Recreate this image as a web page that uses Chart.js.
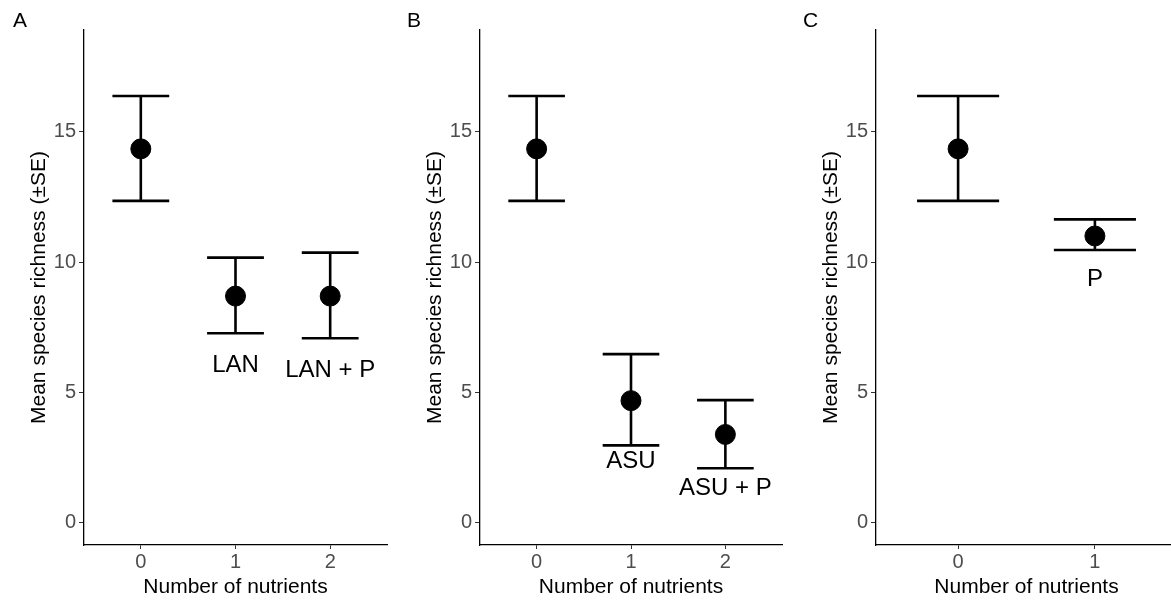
<!DOCTYPE html>
<html>
<head>
<meta charset="utf-8">
<script src="https://cdn.jsdelivr.net/npm/chart.js@4/dist/chart.umd.min.js"></script>
<style>
  html, body { margin: 0; padding: 0; background: #fff; overflow: hidden; }
  #wrap { position: relative; width: 1171px; height: 602px; overflow: hidden; }
  canvas { position: absolute; top: 0; }
</style>
</head>
<body>
<div id="wrap">
  <canvas id="panel-a" width="396" height="602" style="left:0"></canvas>
  <canvas id="panel-b" width="396" height="602" style="left:396px"></canvas>
  <canvas id="panel-c" width="396" height="602" style="left:792px"></canvas>
</div>
<script>
// Mean species richness (±SE) by number of nutrients added

const yTicks = [0, 5, 10, 15];

// Panel A - LAN
const aNutrients = [0, 1, 2];
const aMeans = [14.35, 8.69, 8.69];
const aLower = [12.35, 7.26, 7.07];
const aUpper = [16.38, 10.17, 10.36];
const aNotes = ['', 'LAN', 'LAN + P'];
const aNoteY = [null, 5.77, 5.58];

// Panel B - ASU
const bNutrients = [0, 1, 2];
const bMeans = [14.35, 4.67, 3.37];
const bLower = [12.35, 2.95, 2.07];
const bUpper = [16.38, 6.46, 4.69];
const bNotes = ['', 'ASU', 'ASU + P'];
const bNoteY = [null, 2.08, 1.04];

// Panel C - P
const cNutrients = [0, 1];
const cMeans = [14.35, 11.0];
const cLower = [12.35, 10.46];
const cUpper = [16.38, 11.64];
const cNotes = ['', 'P'];
const cNoteY = [null, 9.08];

const FONT = "'Liberation Sans', Arial, sans-serif";

// draws whiskers, caps, text labels and the panel letter
const errorBarPlugin = {
    id: 'errorBars',
    beforeDatasetsDraw(chart, args, opts) {
        const { ctx } = chart;
        const x = chart.scales.x;
        const y = chart.scales.y;
        ctx.save();
        ctx.strokeStyle = '#000';
        ctx.lineWidth = 2.6;
        opts.nutrients.forEach((n, i) => {
            const px = x.getPixelForValue(n);
            const l = x.getPixelForValue(n - 0.3);
            const r = x.getPixelForValue(n + 0.3);
            const top = y.getPixelForValue(opts.upper[i]);
            const bot = y.getPixelForValue(opts.lower[i]);
            ctx.beginPath();
            ctx.moveTo(px, top); ctx.lineTo(px, bot);
            ctx.moveTo(l, top); ctx.lineTo(r, top);
            ctx.moveTo(l, bot); ctx.lineTo(r, bot);
            ctx.stroke();
        });
        ctx.restore();
    },
    afterDraw(chart, args, opts) {
        const { ctx } = chart;
        const x = chart.scales.x;
        const y = chart.scales.y;
        ctx.save();
        ctx.fillStyle = '#000';
        ctx.textAlign = 'center';
        ctx.textBaseline = 'alphabetic';
        ctx.font = '24px ' + FONT;
        opts.notes.forEach((t, i) => {
            if (!t) return;
            ctx.fillText(t, x.getPixelForValue(opts.nutrients[i]), y.getPixelForValue(opts.noteY[i]));
        });
        ctx.textAlign = 'left';
        ctx.font = '21px ' + FONT;
        ctx.fillText(opts.letter, opts.letterX, 27);
        ctx.restore();
    }
};

function makePanel(id, letter, letterX, nutrients, means, lower, upper, notes, noteY, padRight) {
    const ctx = document.getElementById(id);
    return new Chart(ctx, {
        type: 'scatter',
        data: {
            datasets: [{
                data: nutrients.map((n, i) => ({ x: n, y: means[i] })),
                backgroundColor: '#000',
                borderColor: '#000',
                pointRadius: 10,
                pointHoverRadius: 10
            }]
        },
        options: {
            responsive: false,
            animation: false,
            events: [],
            layout: { autoPadding: false, padding: { top: 30, right: padRight, bottom: 0, left: 0 } },
            plugins: {
                legend: { display: false },
                tooltip: { enabled: false },
                errorBars: { nutrients, lower, upper, notes, noteY, letter, letterX }
            },
            scales: {
                x: {
                    type: 'linear',
                    min: -0.6,
                    max: nutrients.length - 1 + 0.6,
                    afterBuildTicks: s => { s.ticks = nutrients.map(v => ({ value: v })); },
                    afterFit: s => { s.height = 57; s.paddingLeft = 0; s.paddingRight = 0; },
                    border: { display: true, color: '#000', width: 1.3 },
                    grid: { drawOnChartArea: false, drawTicks: true, tickLength: 4, color: '#333', tickWidth: 1 },
                    ticks: { color: '#4d4d4d', font: { family: FONT, size: 20 }, padding: 1 },
                    title: {
                        display: true, text: 'Number of nutrients', color: '#000',
                        font: { family: FONT, size: 21 }, padding: { top: 0, bottom: 2 }
                    }
                },
                y: {
                    min: -0.88,
                    max: 18.92,
                    afterBuildTicks: s => { s.ticks = yTicks.map(v => ({ value: v })); },
                    afterFit: s => { s.width = 84; s.paddingTop = 0; s.paddingBottom = 0; },
                    border: { display: true, color: '#000', width: 1.3 },
                    grid: { drawOnChartArea: false, drawTicks: true, tickLength: 5, color: '#333', tickWidth: 1 },
                    ticks: { color: '#4d4d4d', font: { family: FONT, size: 20 }, padding: 3 },
                    title: {
                        display: true, text: 'Mean species richness (±SE)', color: '#000',
                        font: { family: FONT, size: 21 }, padding: { top: 27, bottom: 0 }
                    }
                }
            }
        },
        plugins: [errorBarPlugin]
    });
}

makePanel('panel-a', 'A', 13, aNutrients, aMeans, aLower, aUpper, aNotes, aNoteY, 9);
makePanel('panel-b', 'B', 11, bNutrients, bMeans, bLower, bUpper, bNotes, bNoteY, 10);
makePanel('panel-c', 'C', 11, cNutrients, cMeans, cLower, cUpper, cNotes, cNoteY, 11);
</script>
</body>
</html>
